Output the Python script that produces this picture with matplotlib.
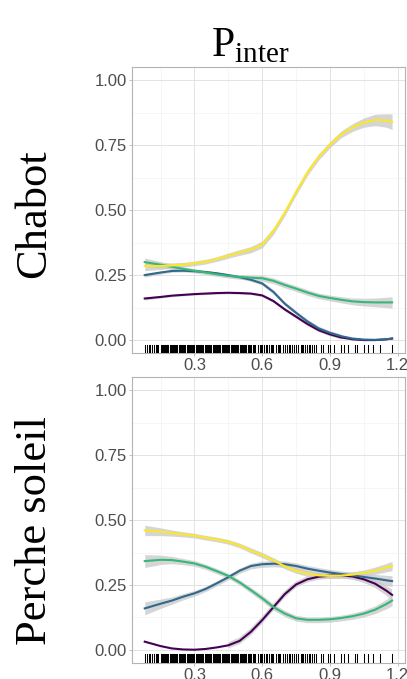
import numpy as np
import matplotlib
matplotlib.use("Agg")
import matplotlib.pyplot as plt

plt.rcParams['mathtext.fontset'] = 'custom'
plt.rcParams['mathtext.rm'] = 'Liberation Serif'

x = [0.08, 0.15, 0.2, 0.25, 0.3, 0.35, 0.4, 0.45, 0.5, 0.55, 0.6, 0.65,
     0.7, 0.75, 0.8, 0.85, 0.9, 0.95, 1.0, 1.05, 1.1, 1.15, 1.175]

panels = ["Chabot", "Perche soleil"]
colors = ["#440154", "#31688E", "#35B779", "#FDE725"]

# Chabot
chabot_purple = [0.16, 0.166, 0.171, 0.174, 0.177, 0.179, 0.181, 0.182, 0.181, 0.179, 0.172, 0.15,
                 0.118, 0.09, 0.062, 0.038, 0.022, 0.01, 0.003, 0.0, 0.0, 0.003, 0.006]
chabot_blue = [0.25, 0.26, 0.266, 0.267, 0.265, 0.262, 0.257, 0.25, 0.242, 0.232, 0.218, 0.185,
               0.14, 0.105, 0.072, 0.045, 0.028, 0.015, 0.006, 0.002, 0.001, 0.003, 0.006]
chabot_green = [0.30, 0.29, 0.282, 0.274, 0.267, 0.26, 0.253, 0.247, 0.243, 0.24, 0.238, 0.228,
                0.212, 0.198, 0.183, 0.17, 0.162, 0.155, 0.149, 0.146, 0.145, 0.145, 0.145]
chabot_yellow = [0.285, 0.285, 0.287, 0.29, 0.295, 0.302, 0.312, 0.325, 0.337, 0.348, 0.368, 0.42,
                 0.49, 0.57, 0.645, 0.705, 0.752, 0.792, 0.818, 0.837, 0.847, 0.845, 0.84]
chabot_se = [
    [0.006, 0.004, 0.004, 0.004, 0.004, 0.004, 0.004, 0.004, 0.004, 0.004, 0.005, 0.006,
     0.006, 0.006, 0.006, 0.006, 0.006, 0.006, 0.006, 0.006, 0.007, 0.008, 0.009],
    [0.008, 0.006, 0.005, 0.005, 0.005, 0.005, 0.005, 0.005, 0.005, 0.006, 0.007, 0.008,
     0.008, 0.008, 0.008, 0.008, 0.008, 0.008, 0.008, 0.008, 0.009, 0.01, 0.011],
    [0.016, 0.012, 0.01, 0.008, 0.008, 0.008, 0.008, 0.008, 0.009, 0.01, 0.011, 0.011,
     0.011, 0.011, 0.011, 0.011, 0.011, 0.012, 0.013, 0.015, 0.017, 0.02, 0.022],
    [0.018, 0.013, 0.01, 0.009, 0.009, 0.009, 0.009, 0.01, 0.011, 0.012, 0.013, 0.013,
     0.012, 0.012, 0.012, 0.012, 0.012, 0.013, 0.015, 0.018, 0.022, 0.026, 0.03],
]

# Perche soleil
perche_purple = [0.032, 0.015, 0.006, 0.002, 0.001, 0.004, 0.01, 0.018, 0.035, 0.07, 0.115, 0.165,
                 0.215, 0.252, 0.272, 0.282, 0.286, 0.287, 0.283, 0.272, 0.255, 0.228, 0.212]
perche_blue = [0.16, 0.178, 0.19, 0.205, 0.218, 0.235, 0.257, 0.28, 0.305, 0.323, 0.33, 0.332,
               0.33, 0.323, 0.313, 0.305, 0.298, 0.292, 0.287, 0.281, 0.275, 0.268, 0.265]
perche_green = [0.342, 0.347, 0.346, 0.34, 0.333, 0.32, 0.303, 0.285, 0.26, 0.23, 0.199, 0.165,
                0.14, 0.122, 0.116, 0.116, 0.118, 0.123, 0.13, 0.14, 0.155, 0.177, 0.19]
perche_yellow = [0.46, 0.455, 0.45, 0.445, 0.44, 0.432, 0.425, 0.416, 0.402, 0.383, 0.365, 0.345,
                 0.322, 0.305, 0.293, 0.287, 0.285, 0.286, 0.29, 0.296, 0.305, 0.317, 0.323]
perche_se = [
    [0.03, 0.018, 0.012, 0.01, 0.01, 0.01, 0.011, 0.012, 0.013, 0.014, 0.014, 0.014,
     0.013, 0.012, 0.012, 0.012, 0.012, 0.012, 0.013, 0.014, 0.016, 0.019, 0.021],
    [0.025, 0.018, 0.014, 0.012, 0.011, 0.01, 0.01, 0.01, 0.01, 0.011, 0.012, 0.012,
     0.012, 0.012, 0.012, 0.012, 0.012, 0.012, 0.013, 0.014, 0.016, 0.019, 0.021],
    [0.025, 0.018, 0.014, 0.012, 0.011, 0.01, 0.01, 0.01, 0.01, 0.011, 0.012, 0.012,
     0.012, 0.011, 0.011, 0.011, 0.011, 0.011, 0.012, 0.013, 0.015, 0.018, 0.02],
    [0.02, 0.015, 0.012, 0.01, 0.009, 0.009, 0.009, 0.009, 0.009, 0.01, 0.01, 0.01,
     0.01, 0.01, 0.01, 0.01, 0.01, 0.01, 0.011, 0.012, 0.014, 0.016, 0.018],
]

curves = [
    [chabot_purple, chabot_blue, chabot_green, chabot_yellow],
    [perche_purple, perche_blue, perche_green, perche_yellow],
]
ses = [chabot_se, perche_se]

# observed x values (rug)
rug = [0.08, 0.09, 0.10, 0.105, 0.11, 0.12, 0.13, 0.135, 0.14, 0.15, 0.155, 0.16, 0.165,
       0.17, 0.175, 0.18, 0.185, 0.19, 0.195, 0.20, 0.205, 0.21, 0.215, 0.22, 0.225, 0.23,
       0.235, 0.24, 0.245, 0.25, 0.255, 0.26, 0.265, 0.27, 0.275, 0.28, 0.285, 0.29, 0.295,
       0.30, 0.305, 0.31, 0.315, 0.32, 0.325, 0.33, 0.335, 0.34, 0.345, 0.35, 0.355, 0.36,
       0.365, 0.37, 0.375, 0.38, 0.385, 0.39, 0.395, 0.40, 0.405, 0.41, 0.415, 0.42, 0.425,
       0.43, 0.435, 0.44, 0.445, 0.45, 0.455, 0.46, 0.465, 0.47, 0.475, 0.48, 0.485, 0.49,
       0.495, 0.50, 0.505, 0.51, 0.515, 0.52, 0.525, 0.53, 0.535, 0.54, 0.545, 0.55, 0.56,
       0.565, 0.57, 0.58, 0.59, 0.595, 0.60, 0.61, 0.615, 0.62, 0.63, 0.64, 0.645, 0.65,
       0.66, 0.67, 0.675, 0.68, 0.69, 0.70, 0.71, 0.72, 0.725, 0.73, 0.74, 0.75, 0.76, 0.77,
       0.775, 0.78, 0.79, 0.80, 0.805, 0.81, 0.82, 0.83, 0.84, 0.86, 0.87, 0.89, 0.90, 0.92,
       0.95, 0.96, 0.98, 1.01, 1.02, 1.05, 1.07, 1.09, 1.12, 1.175]

xticks = [0.3, 0.6, 0.9, 1.2]
yticks = [0.0, 0.25, 0.5, 0.75, 1.0]

fig = plt.figure(figsize=(4.07, 6.79), dpi=100)
boxes = [[0.324, 0.480, 0.671, 0.421], [0.324, 0.0236, 0.671, 0.421]]
label_y = [0.686, 0.219]

xa = np.array(x)
for i, name in enumerate(panels):
    ax = fig.add_axes(boxes[i])
    ax.set_xlim(0.023, 1.232)
    ax.set_ylim(-0.05, 1.05)

    # grid like theme_light
    ax.set_xticks(xticks)
    ax.set_yticks(yticks)
    ax.set_xticks([0.15, 0.45, 0.75, 1.05], minor=True)
    ax.set_yticks([0.125, 0.375, 0.625, 0.875], minor=True)
    ax.grid(True, which='major', color='#dedede', linewidth=0.6)
    ax.grid(True, which='minor', color='#efefef', linewidth=0.4)
    ax.set_axisbelow(True)
    ax.tick_params(which='minor', length=0)
    ax.tick_params(which='major', length=2.5, color='#b3b3b3', width=0.6,
                   labelsize=12, labelcolor='#4d4d4d', pad=1)
    ax.set_xticklabels(['0.3', '0.6', '0.9', '1.2'], family='Liberation Sans')
    ax.set_yticklabels(['0.00', '0.25', '0.50', '0.75', '1.00'], family='Liberation Sans')
    for s in ax.spines.values():
        s.set_color('#b3b3b3')
        s.set_linewidth(0.8)

    for k, ys in enumerate(curves[i]):
        ya = np.array(ys)
        se = np.array(ses[i][k])
        lo = ya - se
        hi = ya + se
        ax.fill_between(xa, lo, hi, where=lo >= 0, color='#c8c8c8', alpha=0.75,
                        linewidth=0, zorder=2)
    for k, ys in enumerate(curves[i]):
        ax.plot(xa, ys, color=colors[k], linewidth=1.5, zorder=3)

    # rug along bottom
    for r in rug:
        ax.axvline(r, ymin=0, ymax=0.03, color='black', linewidth=0.75, zorder=4)

    fig.text(0.085, label_y[i], name, rotation=90, ha='center', va='center',
             family='Liberation Serif', fontsize=32)

fig.text(0.615, 0.935, r'$\mathrm{P}_{\mathrm{inter}}$', ha='center', va='center',
         fontsize=30)

fig.savefig('out.png', dpi=100, facecolor='white')
